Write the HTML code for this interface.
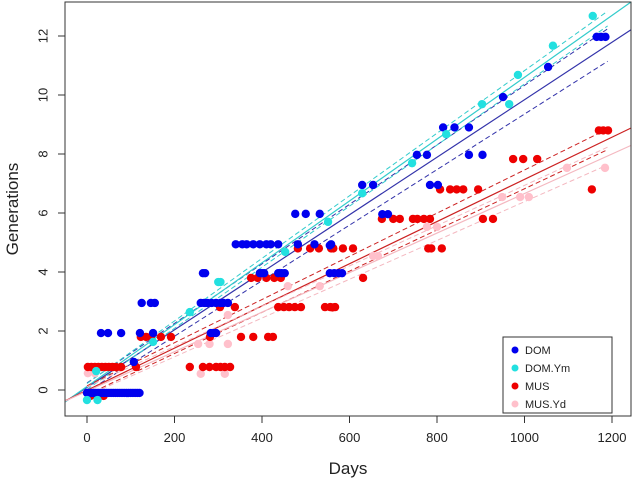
<!DOCTYPE html>
<html><head><meta charset="utf-8"><style>
body{margin:0;background:#fff}
svg{display:block;font-family:"Liberation Sans",Arial,sans-serif}
</style></head><body>
<svg id="chart" width="632" height="482" viewBox="0 0 632 482" xmlns="http://www.w3.org/2000/svg">
<rect x="0" y="0" width="632" height="482" fill="#fff"/>
<g id="lines"></g>
<g id="points"></g>
<rect x="65" y="2" width="566" height="414" fill="none" stroke="#333" stroke-width="1"/>
<g id="axes"></g>
<text x="348" y="474" font-size="17" text-anchor="middle" fill="#222">Days</text>
<text x="18" y="209" font-size="17" text-anchor="middle" fill="#222" transform="rotate(-90 18 209)">Generations</text>
<g id="legend"></g>
</svg>
<script>
const seriesNames = ["DOM","DOM.Ym","MUS","MUS.Yd"];
const seriesColors = ["#0000ee","#22e0e0","#ee0000","#ffc0cb"];
const lineColors = ["#3333aa","#33cccc","#cc2222","#f4b8c0"];
const domDays = [0,5,10,15,20,25,30,35,40,45,50,55,60,65,70,75,80,85,90,95,100,105,110,115,120,32,48,78,121,151,283,290,295,107,125,146,155,260,268,275,285,295,305,312,322,265,270,395,400,405,437,445,452,555,565,575,583,340,355,365,380,395,410,420,437,482,520,558,476,500,532,555,629,654,675,688,754,777,784,802,814,840,873,873,904,951,1054,1165,1175,1185];
const domGen = [-0.1,-0.1,-0.1,-0.1,-0.1,-0.1,-0.1,-0.1,-0.1,-0.1,-0.1,-0.1,-0.1,-0.1,-0.1,-0.1,-0.1,-0.1,-0.1,-0.1,-0.1,-0.1,-0.1,-0.1,-0.1,1.93,1.93,1.93,1.93,1.93,1.93,1.93,1.93,0.95,2.95,2.95,2.95,2.95,2.95,2.95,2.95,2.95,2.95,2.95,2.95,3.96,3.96,3.96,3.96,3.96,3.96,3.96,3.96,3.96,3.96,3.96,3.96,4.94,4.94,4.94,4.94,4.94,4.94,4.94,4.94,4.94,4.94,4.94,5.97,5.97,5.97,4.9,6.95,6.95,5.96,5.96,7.97,7.97,6.95,6.95,8.9,8.9,8.9,7.97,7.97,9.93,10.95,11.97,11.97,11.97];
const ymDays = [0,24,21,151,235,300,305,453,551,629,743,821,903,965,985,1065,1156];
const ymGen = [-0.34,-0.34,0.64,1.63,2.64,3.66,3.66,4.68,5.7,6.67,7.69,8.67,9.69,9.69,10.68,11.67,12.68];
const musDays = [2,10,18,26,34,42,50,58,66,78,112,235,265,280,295,305,315,327,8,38,123,135,146,169,192,281,352,380,414,425,304,338,437,450,462,475,489,544,556,567,561,375,390,410,428,443,631,482,510,530,558,563,585,608,780,787,811,674,700,715,745,755,770,784,905,928,807,830,845,860,894,974,997,1029,1154,1170,1180,1191];
const musGen = [0.78,0.78,0.78,0.78,0.78,0.78,0.78,0.78,0.78,0.78,0.78,0.78,0.78,0.78,0.78,0.78,0.78,0.78,-0.2,-0.2,1.8,1.8,1.8,1.8,1.8,1.8,1.8,1.8,1.8,1.8,2.81,2.81,2.81,2.81,2.81,2.81,2.81,2.81,2.81,2.81,2.8,3.8,3.8,3.8,3.8,3.8,3.8,4.8,4.8,4.8,4.8,4.8,4.8,4.8,4.8,4.8,4.8,5.8,5.8,5.8,5.8,5.8,5.8,5.8,5.8,5.8,6.8,6.8,6.8,6.8,6.8,7.83,7.83,7.83,6.8,8.8,8.8,8.8];
const ydDays = [2,18,260,315,254,280,322,322,459,532,654,665,777,800,949,990,1010,1097,1184];
const ydGen = [0.57,0.57,0.55,0.55,1.56,1.56,1.56,2.54,3.52,3.52,4.54,4.54,5.53,5.53,6.54,6.54,6.54,7.53,7.53];
const fitIntercept = [0.09,0.12,-0.01,-0.04];
const fitSlope = [0.00975,0.01048,0.00715,0.0067];
const ciStart = [0.15,0.1,0.15,0.15];
const ciEnd = [0.55,0.25,0.35,0.3];
const xTicks = [0,200,400,600,800,1000,1200];
const yTicks = [0,2,4,6,8,10,12];

const NS="http://www.w3.org/2000/svg";
const xs = d => 87 + d*0.4375;
const ys = g => 390 - g*29.5;
function mk(tag, attrs, parent){const e=document.createElementNS(NS,tag);for(const k in attrs)e.setAttribute(k,attrs[k]);parent.appendChild(e);return e;}
const linesG=document.getElementById('lines'), ptsG=document.getElementById('points'), axG=document.getElementById('axes'), legG=document.getElementById('legend');

// points
const allDays=[domDays,ymDays,musDays,ydDays], allGen=[domGen,ymGen,musGen,ydGen];
[3,2,0,1].forEach(s=>{
  allDays[s].forEach((d,i)=>{
    const c=mk('circle',{cx:xs(d),cy:ys(allGen[s][i]),r:4.2,fill:seriesColors[s]},ptsG);
    
    
  });
});
// fit lines
const dMin=-50, dMax=1243;
for(let s=0;s<4;s++){
  const l=mk('line',{x1:xs(dMin),y1:ys(fitIntercept[s]+fitSlope[s]*dMin),x2:xs(dMax),y2:ys(fitIntercept[s]+fitSlope[s]*dMax),stroke:lineColors[s],'stroke-width':1.2},linesG);
  
  
  [-1,1].forEach(sg=>{
    const d0=0,d1=1190;
    const c=mk('line',{x1:xs(d0),y1:ys(fitIntercept[s]+fitSlope[s]*d0+sg*ciStart[s]),x2:xs(d1),y2:ys(fitIntercept[s]+fitSlope[s]*d1+sg*ciEnd[s]),stroke:lineColors[s],'stroke-width':1,'stroke-dasharray':'5,3'},linesG);
    
    
  });
}
// axes
mk('line',{x1:xs(0),y1:416,x2:xs(1200),y2:416,stroke:'#333'},axG);
xTicks.forEach(t=>{
  mk('line',{x1:xs(t),y1:416,x2:xs(t),y2:423,stroke:'#333'},axG);
  const tx=mk('text',{x:xs(t),y:442,'font-size':13,'text-anchor':'middle',fill:'#222'},axG);
  tx.textContent=t;
  
  
});
mk('line',{x1:65,y1:ys(0),x2:65,y2:ys(12),stroke:'#333'},axG);
yTicks.forEach(t=>{
  mk('line',{x1:58,y1:ys(t),x2:65,y2:ys(t),stroke:'#333'},axG);
  const tx=mk('text',{x:44,y:ys(t),'font-size':13,'text-anchor':'middle',fill:'#222',transform:`rotate(-90 44 ${ys(t)})`,'dominant-baseline':'middle'},axG);
  tx.textContent=t;
  
  
});
// legend
mk('rect',{x:503,y:337,width:109,height:76,fill:'#fff',stroke:'#333'},legG);
seriesNames.forEach((n,i)=>{
  const y=350+i*18;
  const c=mk('circle',{cx:515,cy:y,r:3.5,fill:seriesColors[i]},legG);
  
  
  const t=mk('text',{x:525,y:y+4,'font-size':11,fill:'#222'},legG);
  t.textContent=n;
  
  
});
</script>
</body></html>
